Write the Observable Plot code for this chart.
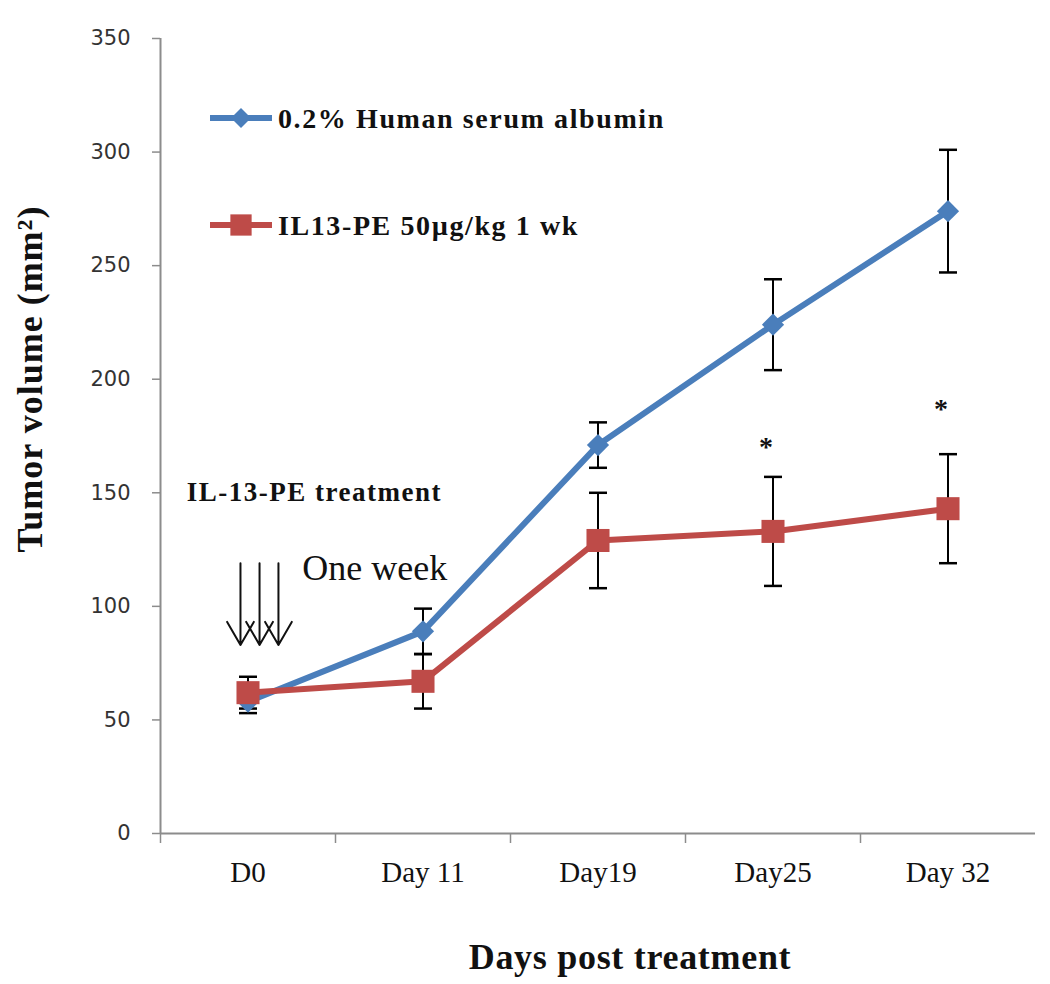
<!DOCTYPE html>
<html><head><meta charset="utf-8">
<script src="https://cdn.jsdelivr.net/npm/d3@7"></script>
<script src="https://cdn.jsdelivr.net/npm/@observablehq/plot@0.6"></script>
<style>body{margin:0;background:#fff} #chart{width:1050px;height:984px}</style>
</head><body><div id="chart"></div>
<script>
// ---- data ----
const days = ["D0", "Day 11", "Day19", "Day25", "Day 32"];
const seriesNames = ["0.2% Human serum albumin", "IL13-PE 50µg/kg 1 wk"];
const hsaMean = [58, 89, 171, 224, 274];
const hsaErr  = [5, 10, 10, 20, 27];
const il13Mean = [62, 67, 129, 133, 143];
const il13Err  = [7, 12, 21, 24, 24];
const yTicks = [0, 50, 100, 150, 200, 250, 300, 350];
const starDays = [3, 4];
const starValues = [170, 187];
const treatmentArrowX = [-0.043, 0.066, 0.174];
const treatmentArrowY = [119, 83];
const noteBold = {text: "IL-13-PE treatment", x: -0.35, y: 150};
const notePlain = {text: "One week", x: 0.31, y: 116.5};
const colors = ["#4a7ebb", "#be4b48"];

// ---- tables ----
const rows = [];
days.forEach((d, i) => {
  rows.push({series: seriesNames[0], i, mean: hsaMean[i], lo: hsaMean[i] - hsaErr[i], hi: hsaMean[i] + hsaErr[i]});
});
days.forEach((d, i) => {
  rows.push({series: seriesNames[1], i, mean: il13Mean[i], lo: il13Mean[i] - il13Err[i], hi: il13Mean[i] + il13Err[i]});
});
const stars = starDays.map((d, k) => ({i: d, y: starValues[k]}));
const arrows = treatmentArrowX.map(x => ({x, y1: treatmentArrowY[0], y2: treatmentArrowY[1]}));
const capSymbol = {draw(ctx, size) { const r = Math.sqrt(size / Math.PI); ctx.moveTo(-r, 0); ctx.lineTo(r, 0); }};
const serif = "'Liberation Serif', 'Times New Roman', serif";

const plot = Plot.plot({
  width: 1050, height: 984,
  marginLeft: 160, marginRight: 15, marginTop: 38, marginBottom: 151,
  x: {type: "linear", domain: [-0.5, days.length - 0.5]},
  y: {domain: [0, 350]},
  color: {domain: seriesNames, range: colors},
  style: {background: "white"},
  marks: [
    Plot.ruleX([-0.5], {stroke: "#8c8c8c", strokeWidth: 2}),
    Plot.ruleY([0], {stroke: "#8c8c8c", strokeWidth: 2}),
    Plot.axisY({ticks: yTicks, tickSize: 8, tickPadding: 22, stroke: "#8c8c8c", strokeWidth: 1.5, fill: "#333",
      fontSize: 21, fontFamily: "'DejaVu Sans', Verdana, sans-serif", label: null}),
    Plot.axisX({ticks: days.map((d, i) => i - 0.5), tickFormat: () => "", tickSize: 10, stroke: "#8c8c8c", strokeWidth: 1.5, label: null}),
    Plot.axisX({ticks: days.map((d, i) => i), tickFormat: i => days[i], tickSize: 0, tickPadding: 28,
      fontSize: 29, fontFamily: serif, fill: "#111", label: null}),
    Plot.text(["Tumor volume (mm²)"], {frameAnchor: "left", textAnchor: "middle", rotate: -90, dx: -130, dy: -57,
      fontSize: 36, fontWeight: "bold", fontFamily: serif, fill: "#111"}),
    Plot.text(["Days post treatment"], {frameAnchor: "bottom", textAnchor: "middle", dy: 135, dx: 32,
      fontSize: 36, fontWeight: "bold", fontFamily: serif, fill: "#111"}),
    // annotations
    Plot.text([noteBold], {x: "x", y: "y", text: "text", textAnchor: "start", fontSize: 27,
      fontWeight: "bold", fontFamily: serif, fill: "#111"}),
    Plot.text([notePlain], {x: "x", y: "y", text: "text", textAnchor: "start", fontSize: 36,
      fontFamily: serif, fill: "#111"}),
    Plot.arrow(arrows, {x1: "x", x2: "x", y1: "y1", y2: "y2", stroke: "#111", strokeWidth: 2, headLength: 20, headAngle: 60}),
    Plot.text(stars, {x: "i", y: "y", text: () => "*", dx: -7, fontSize: 28, fontWeight: "bold", fontFamily: serif, fill: "#111"}),
    // error bars
    Plot.ruleX(rows, {x: "i", y1: "lo", y2: "hi", stroke: "#000", strokeWidth: 2}),
    Plot.dot(rows, {x: "i", y: "lo", symbol: capSymbol, r: 9, stroke: "#000", strokeWidth: 2.5}),
    Plot.dot(rows, {x: "i", y: "hi", symbol: capSymbol, r: 9, stroke: "#000", strokeWidth: 2.5}),
    // series lines + markers
    Plot.line(rows, {x: "i", y: "mean", stroke: "series", z: "series", strokeWidth: 6}),
    Plot.dot(rows.filter(d => d.series === seriesNames[0]), {x: "i", y: "mean", symbol: "diamond2", r: 10, fill: colors[0]}),
    Plot.dot(rows.filter(d => d.series === seriesNames[1]), {x: "i", y: "mean", symbol: "square", r: 13, fill: colors[1]})
  ]
});
document.getElementById("chart").appendChild(plot);

const svg = d3.select(plot);
// letter spacing tweaks to match the reference's wide type
const spacing = {"Tumor volume (mm²)": 1, "Days post treatment": 0.7, "IL-13-PE treatment": 1.5};
svg.selectAll("text").each(function() {
  const t = this.textContent;
  if (spacing[t] !== undefined) this.setAttribute("letter-spacing", spacing[t]);
});

// ---- legend (inside plot area, top-left) ----
const leg = svg.append("g").attr("font-family", serif).attr("font-weight", "bold").attr("font-size", 28)
  .attr("fill", "#111").attr("text-anchor", "start").attr("letter-spacing", 1.6);
const legendY = [118, 225];
seriesNames.forEach((name, k) => {
  const g = leg.append("g").attr("transform", `translate(0,${legendY[k]})`);
  g.append("line").attr("x1", 210).attr("x2", 272).attr("y1", 0).attr("y2", 0).attr("stroke", colors[k]).attr("stroke-width", 6);
  if (k === 0) g.append("path").attr("d", d3.symbol(d3.symbolDiamond2, 9 * 9 * Math.PI)()).attr("transform", "translate(241,0)").attr("fill", colors[0]);
  else g.append("path").attr("d", d3.symbol(d3.symbolSquare, 12 * 12 * Math.PI)()).attr("transform", "translate(241,0)").attr("fill", colors[1]);
  g.append("text").attr("x", 278).attr("y", 0).attr("dy", "0.35em").text(name);
});
</script>
</body></html>
